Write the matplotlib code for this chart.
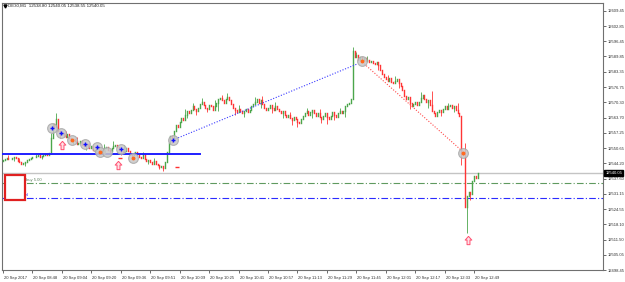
import matplotlib
matplotlib.use("Agg")
import matplotlib.pyplot as plt
import matplotlib.transforms as mtransforms
from matplotlib.patches import Rectangle
from matplotlib.path import Path
import numpy as np

# ---------------- data ----------------
closes_a = [12545.5, 12546.0, 12546.5, 12546.0, 12545.8, 12546.5, 12547.0, 12546.2, 12545.0, 12544.5,
            12544.0, 12544.3, 12544.8, 12545.5, 12546.0, 12546.5, 12547.0, 12546.8, 12547.2, 12547.5,
            12547.0, 12547.3, 12547.8, 12548.0, 12547.5, 12548.5]
closes_b = [12555.0, 12561.0, 12559.5, 12563.0, 12558.0, 12556.5]
closes_c = [12557.0, 12556.0, 12555.5, 12556.5, 12555.0, 12554.0, 12554.5, 12553.5, 12552.5, 12553.0,
            12553.5, 12552.0, 12551.5, 12552.5, 12551.0, 12550.5, 12551.5, 12550.0, 12549.5, 12550.5,
            12549.0, 12548.8, 12549.5, 12550.5, 12551.0, 12550.0, 12549.5, 12550.5, 12551.5, 12552.0,
            12551.0, 12550.0, 12549.5, 12548.5, 12549.5, 12550.5, 12549.5, 12548.0, 12547.5, 12548.5,
            12549.0, 12548.0, 12547.0]
closes_d = [12546.5, 12547.5, 12546.0, 12545.0, 12545.5, 12544.5, 12544.0, 12545.0, 12544.0, 12543.5,
            12542.5, 12543.0, 12542.0, 12544.5]
closes_e = [12549.0, 12553.0, 12556.0, 12555.0, 12558.0, 12560.5, 12559.5, 12562.0, 12563.5, 12562.5,
            12565.0, 12566.5, 12565.5, 12567.0, 12568.5, 12567.5, 12566.5, 12568.0, 12569.5, 12570.5,
            12569.0, 12568.0, 12567.5, 12569.0, 12568.5, 12567.0, 12568.5, 12570.0, 12571.5, 12572.0,
            12571.0, 12570.0, 12571.5, 12572.5, 12571.0]
closes_f = [12569.5, 12568.0, 12567.0, 12566.0, 12567.5, 12566.5, 12565.5, 12566.5, 12567.5, 12566.0,
            12567.0, 12568.5, 12569.5, 12570.5, 12571.5, 12570.0, 12571.0, 12569.5, 12568.0, 12567.0,
            12568.0, 12569.0, 12568.0, 12567.0, 12568.5, 12567.5, 12566.5, 12565.5, 12566.5, 12565.0,
            12564.0, 12565.0, 12563.5, 12562.5, 12564.0, 12563.0, 12562.0, 12561.5, 12563.0, 12564.5,
            12565.5, 12566.5, 12565.0, 12566.0, 12567.0, 12565.5, 12564.5, 12565.5, 12564.0, 12563.0,
            12564.5, 12565.5, 12564.0, 12563.0, 12564.5, 12566.0, 12565.0, 12564.0, 12565.5, 12566.5,
            12565.5, 12566.5, 12568.5, 12569.5, 12570.0]
closes_g = [12571.5, 12592.0, 12589.5, 12590.5, 12588.5, 12589.5]
closes_h = [12588.5, 12589.0, 12588.0, 12588.5, 12587.5, 12588.0, 12587.0, 12586.5, 12587.5, 12586.0,
            12584.0, 12582.5, 12581.0, 12580.0, 12579.5, 12580.5, 12579.0, 12578.5, 12579.5, 12580.0,
            12578.5, 12577.0, 12575.5, 12573.0, 12571.5, 12572.5, 12570.0, 12568.5, 12569.5, 12570.5,
            12569.0, 12570.5, 12572.0, 12573.5, 12571.5, 12570.5, 12571.0, 12569.0, 12566.5, 12565.5,
            12564.5, 12566.0, 12567.0, 12566.0, 12567.5, 12568.5, 12567.5, 12568.5, 12569.0, 12568.0,
            12568.5, 12567.0, 12565.5, 12564.5]
closes_i = [12548.0, 12547.5, 12525.5, 12530.0, 12532.0, 12531.0, 12536.5, 12538.5, 12538.0, 12540.05]
first_open = 12545.2

# explicit wicks (bar index -> price)
wick_highs = {3: 12547.5, 9: 12546.5, 18: 12548.6, 26: 12557.0, 29: 12565.8, 34: 12558.0, 40: 12555.5,
              47: 12553.0, 55: 12552.5, 60: 12553.5, 66: 12551.8, 76: 12549.0, 82: 12546.5,
              99: 12567.2, 103: 12570.0, 108: 12572.0, 115: 12571.0, 119: 12573.5, 122: 12574.0,
              128: 12569.0, 137: 12572.5, 141: 12572.8, 148: 12570.2, 156: 12566.0, 165: 12568.0,
              172: 12567.2, 183: 12568.0, 190: 12594.0, 192: 12591.8, 198: 12590.2, 209: 12582.0,
              213: 12581.5, 227: 12574.5, 233: 12575.0, 242: 12570.0, 247: 12569.8, 251: 12552.8}
wick_lows = {6: 12545.0, 12: 12543.0, 21: 12545.8, 31: 12554.8, 38: 12552.5, 45: 12549.8, 52: 12547.5,
             58: 12548.0, 64: 12547.8, 70: 12546.5, 79: 12543.8, 85: 12541.5, 87: 12540.8,
             92: 12553.0, 100: 12563.5, 105: 12565.0, 111: 12566.0, 117: 12566.5, 126: 12565.0,
             131: 12564.0, 140: 12568.0, 146: 12565.5, 152: 12563.5, 157: 12560.5, 160: 12559.8,
             168: 12563.5, 173: 12561.5, 176: 12560.8, 180: 12562.5, 186: 12564.0, 204: 12584.0,
             215: 12576.5, 221: 12567.2, 231: 12568.0, 238: 12564.5, 245: 12566.0, 249: 12543.4,
             252: 12514.5, 254: 12528.5}

bid_price = 12540.05
buy_level = 12535.8
sl_level = 12529.3
hline_level = 12548.1
hline_end = 107

y_ticks = [12609.45, 12602.85, 12596.45, 12589.85, 12583.35, 12576.75, 12570.30, 12563.70, 12557.25,
           12550.65, 12544.20, 12537.60, 12531.15, 12524.55, 12518.10, 12511.50, 12505.05, 12498.45]
x_tick_labels = ["20 Sep 2017", "20 Sep 08:48", "20 Sep 09:04", "20 Sep 09:20", "20 Sep 09:36",
                 "20 Sep 09:51", "20 Sep 10:09", "20 Sep 10:25", "20 Sep 10:41", "20 Sep 10:57",
                 "20 Sep 11:13", "20 Sep 11:29", "20 Sep 11:45", "20 Sep 12:01", "20 Sep 12:17",
                 "20 Sep 12:33", "20 Sep 12:49"]
x_tick_bars = [0, 16, 32, 48, 64, 80, 96, 112, 128, 144, 160, 176, 192, 208, 224, 240, 256]

circle_x = [26.6, 31.5, 37.5, 44.6, 51.1, 52.7, 56.5, 64.1, 70.7, 92.4, 195.1, 250.0]
circle_y = [12559.2, 12557.1, 12554.1, 12552.4, 12551.1, 12549.0, 12549.0, 12550.2, 12546.4, 12554.1, 12587.9, 12548.5]
plus_x = [26.6, 31.5, 44.6, 51.1, 64.1, 92.4]
plus_y = [12559.2, 12557.1, 12552.4, 12551.1, 12550.2, 12554.1]
dot_x = [37.5, 52.7, 70.7, 195.1, 250.0]
dot_y = [12554.1, 12549.0, 12546.4, 12587.9, 12548.5]
arrow_x = [32.1, 62.5, 252.7]
arrow_y = [12552.0, 12543.6, 12511.3]
dash_x = [63.6, 94.6]
dash_y = [12546.4, 12542.5]
buy_line_x = [92.4, 192.4]
buy_line_y = [12554.1, 12586.6]
sell_line_x = [195.1, 250.0]
sell_line_y = [12587.5, 12549.0]

header = "DE30,M1  12538.80 12540.05 12538.55 12540.05"

# ---------------- figure ----------------
W, H = 625, 282
fig = plt.figure(figsize=(W / 100, H / 100), dpi=100)
fig.patch.set_facecolor("white")
ax = fig.add_axes([2 / W, 12 / H, 601 / W, 267 / H])
ax.set_facecolor("white")

closes = np.array(closes_a + closes_b + closes_c + closes_d + closes_e + closes_f + closes_g + closes_h + closes_i)
n = len(closes)
opens = np.concatenate([[first_open], closes[:-1]])
highs = np.maximum(opens, closes)
lows = np.minimum(opens, closes)
for k, v in wick_highs.items():
    highs[k] = max(highs[k], v)
for k, v in wick_lows.items():
    lows[k] = min(lows[k], v)
xs = np.arange(n)

GREEN = "#4ba64b"
RED = "#ff3535"
cols = [GREEN if c > o else (RED if c < o else "black") for o, c in zip(opens, closes)]

ax.vlines(xs, lows, highs, colors=cols, linewidth=0.6, zorder=3)
lc2 = ax.vlines(xs, np.minimum(opens, closes), np.maximum(opens, closes), colors=cols, linewidth=1.0, zorder=3)
lc2.set_capstyle("projecting")

# horizontal lines
ax.axhline(bid_price, color="#c4c4c4", lw=1.0, zorder=1)
ax.axhline(buy_level, color="#5f9a5f", lw=0.8, ls=(0, (6, 2, 1, 2)), zorder=2)
ax.axhline(sl_level, color="#2b2bff", lw=0.8, ls=(0, (6, 2, 1, 2)), zorder=2)
ax.plot([-0.5, hline_end], [hline_level, hline_level], color="#1f1fff", lw=1.4, zorder=4)

# trade lines
ax.plot(buy_line_x, buy_line_y, color="#3a3aff", lw=0.8, ls=(0, (1, 1.5)), zorder=4)
ax.plot(sell_line_x, sell_line_y, color="#ff4a4a", lw=0.8, ls=(0, (1, 1.5)), zorder=4)

# trade markers
ax.plot(circle_x, circle_y, "o", ms=7, mfc="#c8c8c8", mec="#a8a8a8", mew=0.8, alpha=0.85, zorder=5, ls="none")
ax.plot(plus_x, plus_y, "+", ms=3.5, color="#1010ff", mew=1.0, zorder=6, ls="none")
ax.plot(dot_x, dot_y, "o", ms=1.8, color="#ff6a20", zorder=6, ls="none")
arrow_path = Path([(0, 1), (-0.8, 0.1), (-0.35, 0.1), (-0.35, -1), (0.35, -1), (0.35, 0.1), (0.8, 0.1), (0, 1)])
ax.plot(arrow_x, arrow_y, marker=arrow_path, ms=6, mfc="#ffe0e6", mec="#ff5070", mew=0.7, ls="none", zorder=6)
ax.plot(dash_x, dash_y, "_", ms=3.5, color="#ff3030", mew=1.0, ls="none", zorder=6)

# axes limits, ticks
ax.set_xlim(-0.5, 326)
ax.set_ylim(12498.45, 12498.45 + 267 * 0.428)
ax.yaxis.tick_right()
ax.set_yticks(y_ticks)
ax.set_yticklabels([f"{v:.2f}" for v in y_ticks], fontsize=3, family="Liberation Sans")
ax.tick_params(axis="y", length=2, pad=1.5, width=0.5, colors="#303030")
ax.set_xticks(x_tick_bars)
ax.set_xticklabels(x_tick_labels, fontsize=3, family="Liberation Sans", ha="left")
ax.tick_params(axis="x", length=2.5, pad=1.5, width=0.5, colors="#303030")
offset = mtransforms.ScaledTranslation(1 / 100, 0, fig.dpi_scale_trans)
for lab in ax.get_xticklabels():
    lab.set_transform(lab.get_transform() + offset)
for s in ax.spines.values():
    s.set_color("#707070")
    s.set_linewidth(0.8)

# highlighted bid label
blend = mtransforms.blended_transform_factory(ax.transAxes, ax.transData)
ax.text(1.004, bid_price, f"{bid_price:.2f}", transform=blend, fontsize=3, family="Liberation Sans",
        color="white", va="center", ha="left",
        bbox=dict(boxstyle="square,pad=0.25", fc="black", ec="black"), clip_on=False, zorder=10)

# header
fig.text(8 / W, 1 - 6 / H, header, fontsize=3.2, family="Liberation Sans", color="#202020", va="center", ha="left")
fig.lines.append(plt.Line2D([5 / W], [1 - 6 / H], marker="v", ms=2.2, color="black", transform=fig.transFigure))

# order labels
ax.text(23.5 / 601 * 326.5 - 0.5, buy_level + 0.4, "buy 5.00", fontsize=3, family="Liberation Sans",
        color="#5f7f5f", va="bottom", ha="left", zorder=7)
ax.text(23.5 / 601 * 326.5 - 0.5, sl_level + 0.4, "sl", fontsize=3, family="Liberation Sans",
        color="#2b2bff", va="bottom", ha="left", zorder=7)

# red box overlay
fig.patches.append(Rectangle((6 / W, 1 - 201 / H), 20 / W, 25 / H, transform=fig.transFigure,
                             fc="#b0b0b0", ec="none", alpha=0.5, zorder=19))
fig.patches.append(Rectangle((5 / W, 1 - 200 / H), 20 / W, 25 / H, transform=fig.transFigure,
                             fc="white", ec="#e02020", lw=1.6, zorder=20))

fig.savefig("out.png", dpi=100, facecolor="white")
